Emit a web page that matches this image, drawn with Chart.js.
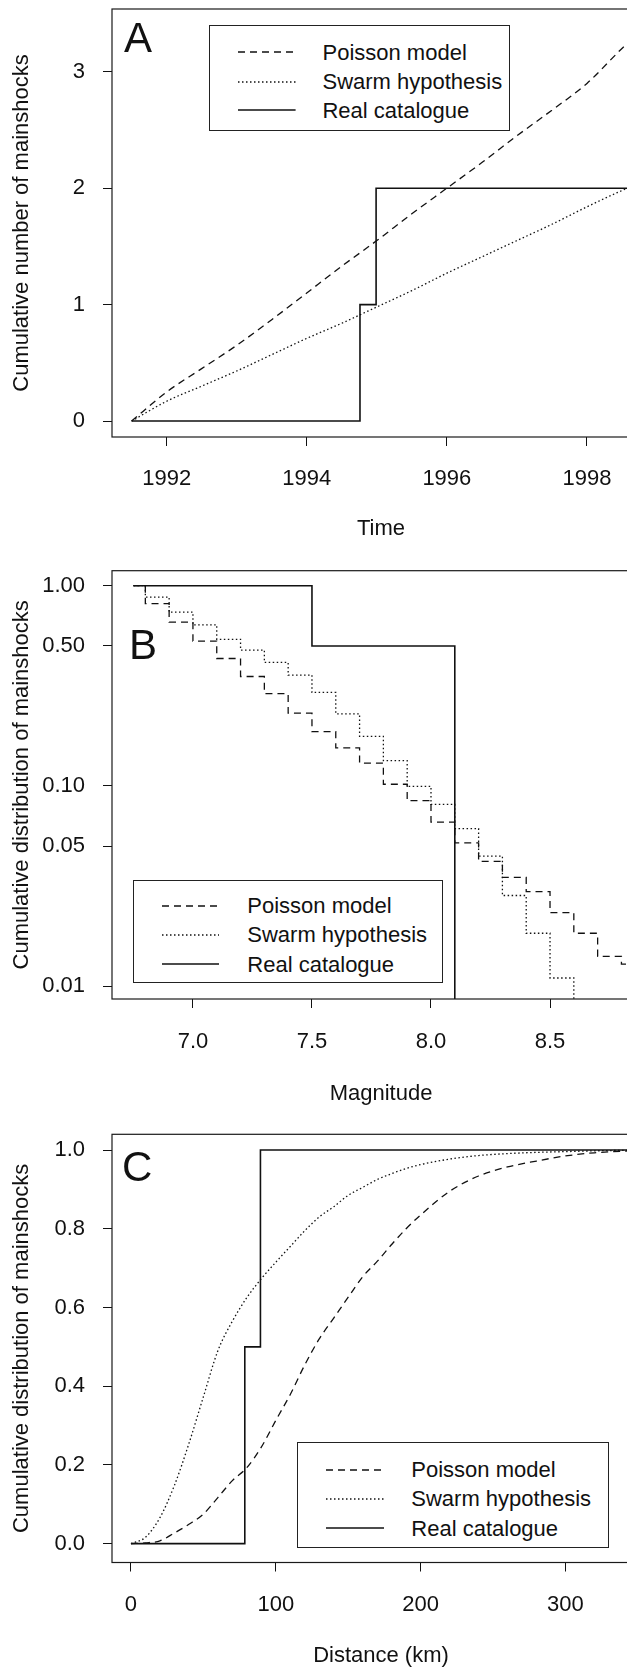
<!DOCTYPE html>
<html>
<head>
<meta charset="utf-8">
<script src="https://cdn.jsdelivr.net/npm/chart.js@4.4.1/dist/chart.umd.min.js"></script>
<style>
  html, body { margin: 0; padding: 0; background: #fff; overflow: hidden; }
  body { width: 627px; height: 1668px; position: relative; font-family: "Liberation Sans", Arial, Helvetica, sans-serif; color: #111; }
  canvas.panel { position: absolute; left: 0; }
  .letter { position: absolute; font-size: 42px; line-height: 42px; }
  .legend { position: absolute; border: 1px solid #222; background: #fff; box-sizing: border-box; }
  .legend .txt { position: absolute; font-size: 22px; line-height: 26px; white-space: nowrap; }
  .legend svg { position: absolute; overflow: visible; }
</style>
</head>
<body>
<canvas id="chartA" class="panel"></canvas>
<canvas id="chartB" class="panel"></canvas>
<canvas id="chartC" class="panel"></canvas>
<div class="letter" style="left:124px; top:17px;">A</div>
<div class="letter" style="left:129px; top:624px;">B</div>
<div class="letter" style="left:122px; top:1146px;">C</div>
<script>
"use strict";

// ---- Panel A: cumulative number of mainshocks over time ----
const timeYears     = [1991.5, 1992.0, 1992.5, 1993.0, 1993.5, 1994.0, 1994.5, 1995.0, 1995.5, 1996.0, 1996.5, 1997.0, 1997.5, 1998.0, 1998.5, 1998.9];
const poissonCountA = [0, 0.25, 0.45, 0.65, 0.87, 1.10, 1.33, 1.55, 1.78, 2.00, 2.22, 2.45, 2.67, 2.90, 3.20, 3.42];
const swarmCountA   = [0, 0.17, 0.30, 0.43, 0.57, 0.71, 0.84, 0.98, 1.12, 1.27, 1.41, 1.55, 1.69, 1.84, 1.98, 2.08];
const realYearsA    = [1991.5, 1994.76, 1994.99, 1998.9];
const realCountA    = [0, 1, 2, 2];
const timeTicks     = [1992, 1994, 1996, 1998];
const countTicks    = [0, 1, 2, 3];

// ---- Panel B: cumulative distribution vs magnitude (log) ----
const magnitudes   = [6.75, 6.8, 6.9, 7.0, 7.1, 7.2, 7.3, 7.4, 7.5, 7.6, 7.7, 7.8, 7.9, 8.0, 8.1, 8.2, 8.3, 8.4, 8.5, 8.6, 8.7, 8.8, 9.0];
const poissonDistB = [1, 0.814, 0.658, 0.529, 0.433, 0.352, 0.289, 0.231, 0.187, 0.155, 0.130, 0.102, 0.0845, 0.066, 0.052, 0.042, 0.035, 0.0297, 0.0233, 0.0184, 0.0141, 0.0129, 0.0129];
const swarmDistB   = [1, 0.877, 0.738, 0.637, 0.540, 0.477, 0.414, 0.358, 0.293, 0.229, 0.177, 0.134, 0.0995, 0.081, 0.0613, 0.0447, 0.0284, 0.0184, 0.0110, 0, 0, 0, 0];
const realMagsB    = [6.75, 7.5, 8.1, 9.0];
const realDistB    = [1, 0.5, 0, 0];
const magnitudeTicks = [7.0, 7.5, 8.0, 8.5];
const logDistTicks   = [1, 0.5, 0.1, 0.05, 0.01];

// ---- Panel C: cumulative distribution vs distance ----
const distancesKm  = [0, 10, 20, 30, 40, 50, 60, 70, 80, 90, 100, 110, 120, 130, 140, 150, 160, 170, 180, 190, 200, 220, 240, 260, 280, 300, 320, 360];
const poissonDistC = [0, 0.002, 0.007, 0.027, 0.049, 0.075, 0.117, 0.16, 0.193, 0.245, 0.313, 0.379, 0.454, 0.52, 0.573, 0.626, 0.678, 0.717, 0.76, 0.80, 0.835, 0.895, 0.934, 0.957, 0.972, 0.985, 0.993, 1.0];
const swarmDistC   = [0, 0.016, 0.066, 0.148, 0.254, 0.373, 0.49, 0.565, 0.625, 0.673, 0.715, 0.755, 0.795, 0.83, 0.856, 0.885, 0.905, 0.925, 0.94, 0.953, 0.963, 0.977, 0.986, 0.991, 0.994, 0.996, 0.998, 1.0];
const realKmC      = [0, 78.6, 89.4, 360];
const realDistC    = [0, 0.5, 1, 1];
const kmTicks      = [0, 100, 200, 300];
const linDistTicks = [0, 0.2, 0.4, 0.6, 0.8, 1.0];

const seriesLabels = ['Poisson model', 'Swarm hypothesis', 'Real catalogue'];
const INK = '#111';
const LOG_FLOOR = 0.001; // zero values sit below the log axis

Chart.defaults.font.family = '"Liberation Sans", Arial, Helvetica, sans-serif';
Chart.defaults.color = INK;

const dashStyles = [[7, 5], [1.5, 2.5], []];
const lineWidths = [1.3, 1.3, 1.6];

function toPoints(xs, ys, isLog) {
    return xs.map((x, i) => ({x: x, y: isLog && !(ys[i] > 0) ? LOG_FLOOR : ys[i]}));
}

function makeDatasets(series, isLog) {
    return series.map((s, i) => ({
        label: seriesLabels[i],
        data: toPoints(s.x, s.y, isLog),
        borderColor: INK,
        borderWidth: lineWidths[i],
        borderDash: dashStyles[i],
        stepped: s.stepped || false,
        cubicInterpolationMode: s.smooth ? 'monotone' : 'default',
        fill: false,
        pointRadius: 0
    }));
}

// draws the closed frame around the plot region
const plotBox = {
    id: 'plotBox',
    afterDatasetsDraw(chart) {
        const {ctx, chartArea: a} = chart;
        ctx.save();
        ctx.strokeStyle = '#1a1a1a';
        ctx.lineWidth = 1.2;
        ctx.strokeRect(a.left, a.top, a.right - a.left, a.bottom - a.top);
        ctx.restore();
    }
};

function makePanel(id, cfg) {
    const canvas = document.getElementById(id);
    canvas.width = 680;
    canvas.height = 560;
    canvas.style.width = '680px';
    canvas.style.height = '560px';
    canvas.style.top = cfg.top + 'px';

    return new Chart(canvas, {
        type: 'line',
        data: {datasets: cfg.datasets},
        options: {
            responsive: false,
            animation: false,
            devicePixelRatio: 1,
            events: [],
            layout: {autoPadding: false, padding: {top: cfg.padTop, right: 30, bottom: 0, left: 0}},
            plugins: {legend: {display: false}, tooltip: {enabled: false}},
            scales: {
                x: {
                    type: 'linear',
                    bounds: 'data',
                    min: cfg.xMin,
                    max: cfg.xMax,
                    afterBuildTicks: s => { s.ticks = cfg.xTicks.map(v => ({value: v})); },
                    afterFit: s => { s.height = cfg.xAxisHeight; s.paddingLeft = 0; s.paddingRight = 0; },
                    ticks: {
                        callback: cfg.xFormat,
                        padding: cfg.xTickPad,
                        font: {size: 22},
                        maxRotation: 0,
                        autoSkip: false
                    },
                    grid: {drawOnChartArea: false, drawTicks: true, tickLength: 9, color: INK, lineWidth: 1},
                    border: {display: false},
                    title: {display: true, text: cfg.xTitle, font: {size: 22}, padding: {top: 0, bottom: cfg.xTitlePad}}
                },
                y: {
                    type: cfg.yType,
                    bounds: 'data',
                    min: cfg.yMin,
                    max: cfg.yMax,
                    afterBuildTicks: s => { s.ticks = cfg.yTicks.map(v => ({value: v})); },
                    afterFit: s => { s.width = 112; s.paddingTop = 0; s.paddingBottom = 0; },
                    ticks: {
                        callback: cfg.yFormat,
                        padding: 18,
                        font: {size: 22},
                        autoSkip: false
                    },
                    grid: {drawOnChartArea: false, drawTicks: true, tickLength: 9, color: INK, lineWidth: 1},
                    border: {display: false},
                    title: {display: true, text: cfg.yTitle, font: {size: 22}, padding: {top: 9.2, bottom: 0}}
                }
            }
        },
        plugins: [plotBox]
    });
}

// html legend built from the chart's datasets
function buildLegend(chart, box) {
    const el = document.createElement('div');
    el.className = 'legend';
    el.style.left = box.left + 'px';
    el.style.top = box.top + 'px';
    el.style.width = box.width + 'px';
    el.style.height = box.height + 'px';

    chart.data.datasets.forEach((ds, i) => {
        const rowY = box.rows[i] - 1;
        const svg = document.createElementNS('http://www.w3.org/2000/svg', 'svg');
        svg.setAttribute('width', box.sampleW);
        svg.setAttribute('height', 4);
        svg.style.left = (box.sampleX - 1) + 'px';
        svg.style.top = (rowY - 2) + 'px';
        const line = document.createElementNS('http://www.w3.org/2000/svg', 'line');
        line.setAttribute('x1', 0);
        line.setAttribute('x2', box.sampleW);
        line.setAttribute('y1', 2);
        line.setAttribute('y2', 2);
        line.setAttribute('stroke', INK);
        line.setAttribute('stroke-width', ds.borderWidth);
        if (ds.borderDash.length) line.setAttribute('stroke-dasharray', ds.borderDash.join(' '));
        svg.appendChild(line);
        el.appendChild(svg);

        const txt = document.createElement('div');
        txt.className = 'txt';
        txt.textContent = ds.label;
        txt.style.left = (box.textX - 2.5) + 'px';
        txt.style.top = (rowY - 12.7) + 'px';
        el.appendChild(txt);
    });
    document.body.appendChild(el);
}

const chartA = makePanel('chartA', {
    top: 0, padTop: 9, xAxisHeight: 123, xTickPad: 19.3, xTitlePad: 17.8,
    xMin: 1991.22, xMax: 1998.9, xTicks: timeTicks, xFormat: v => String(v), xTitle: 'Time',
    yType: 'linear', yMin: -0.137, yMax: 3.539, yTicks: countTicks, yFormat: v => String(v),
    yTitle: 'Cumulative number of mainshocks',
    datasets: makeDatasets([
        {x: timeYears, y: poissonCountA, smooth: true},
        {x: timeYears, y: swarmCountA, smooth: true},
        {x: realYearsA, y: realCountA, stepped: true}
    ], false)
});

const chartB = makePanel('chartB', {
    top: 560, padTop: 10.7, xAxisHeight: 121, xTickPad: 20.3, xTitlePad: 12.8,
    xMin: 6.66, xMax: 8.92, xTicks: magnitudeTicks, xFormat: v => v.toFixed(1), xTitle: 'Magnitude',
    yType: 'logarithmic', yMin: 0.00864, yMax: 1.188, yTicks: logDistTicks, yFormat: v => v.toFixed(2),
    yTitle: 'Cumulative distribution of mainshocks',
    datasets: makeDatasets([
        {x: magnitudes, y: poissonDistB, stepped: true},
        {x: magnitudes, y: swarmDistB, stepped: true},
        {x: realMagsB, y: realDistB, stepped: true}
    ], true)
});

const chartC = makePanel('chartC', {
    top: 1120, padTop: 14.3, xAxisHeight: 117.5, xTickPad: 19.8, xTitlePad: 10.8,
    xMin: -13.1, xMax: 358.4, xTicks: kmTicks, xFormat: v => String(v), xTitle: 'Distance (km)',
    yType: 'linear', yMin: -0.048, yMax: 1.04, yTicks: linDistTicks, yFormat: v => v.toFixed(1),
    yTitle: 'Cumulative distribution of mainshocks',
    datasets: makeDatasets([
        {x: distancesKm, y: poissonDistC, smooth: true},
        {x: distancesKm, y: swarmDistC, smooth: true},
        {x: realKmC, y: realDistC, stepped: true}
    ], false)
});

buildLegend(chartA, {left: 208.8, top: 25, width: 300.8, height: 106, rows: [27.4, 56.7, 85.3], sampleX: 28.8, sampleW: 57.6, textX: 115.2});
buildLegend(chartB, {left: 132.8, top: 880, width: 310, height: 103, rows: [26, 54.6, 84.3], sampleX: 29.2, sampleW: 57, textX: 116});
buildLegend(chartC, {left: 296.8, top: 1442.4, width: 312, height: 105.8, rows: [27.2, 56.2, 85.9], sampleX: 29.2, sampleW: 58, textX: 116});
</script>
</body>
</html>
